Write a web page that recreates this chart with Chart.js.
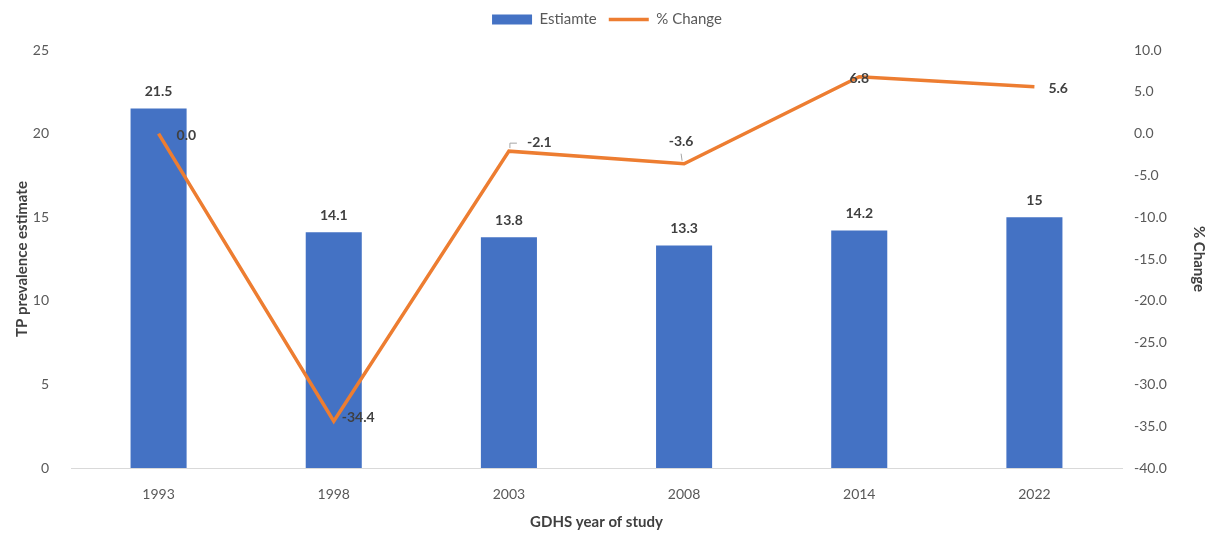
<!DOCTYPE html>
<html>
<head>
<meta charset="utf-8">
<script src="https://cdn.jsdelivr.net/npm/chart.js@4"></script>
<style>
  html, body { margin: 0; padding: 0; background: #fff; }
  #wrap { width: 1214px; height: 535px; }
</style>
</head>
<body>
<div id="wrap"><canvas id="chart" width="1214" height="535"></canvas></div>
<script>
// Values
const years = ["1993", "1998", "2003", "2008", "2014", "2022"];
const estimate = [21.5, 14.1, 13.8, 13.3, 14.2, 15];
const pctChange = [0.0, -34.4, -2.1, -3.6, 6.8, 5.6];
const estimateLabels = ["21.5", "14.1", "13.8", "13.3", "14.2", "15"];

const FONT = 'Lato, "Open Sans", "Liberation Sans", sans-serif';
const BLUE = "#4472C4";
const ORANGE = "#ED7D31";
const GREY = "#595959";

Chart.defaults.font.family = FONT;
Chart.defaults.color = GREY;

// where each % change label sits relative to its point (Excel-style placement)
const lineLabelPos = [
  { dx: 18, dy: 2, align: "left" },
  { dx: 8, dy: -4, align: "left" },
  { dx: 18, dy: -9, align: "left", leader: "elbow" },
  { dx: -3, dy: -22, align: "center", leader: "tick" },
  { dx: 0, dy: 2, align: "center" },
  { dx: 14, dy: 2, align: "left" }
];

const valueLabels = {
  id: "valueLabels",
  afterDatasetsDraw(chart) {
    const ctx = chart.ctx;
    ctx.save();
    ctx.font = "bold 14px " + FONT;
    ctx.fillStyle = "#404040";
    ctx.textBaseline = "middle";

    // bars
    chart.getDatasetMeta(0).data.forEach((bar, i) => {
      ctx.textAlign = "center";
      ctx.fillText(estimateLabels[i], bar.x, bar.y - 17);
    });

    // line
    chart.getDatasetMeta(1).data.forEach((pt, i) => {
      const p = lineLabelPos[i];
      const txt = pctChange[i].toFixed(1);
      ctx.textAlign = p.align;
      if (p.leader === "elbow") {
        ctx.strokeStyle = "#a6a6a6";
        ctx.lineWidth = 1;
        ctx.beginPath();
        ctx.moveTo(pt.x + 1, pt.y - 3);
        ctx.lineTo(pt.x + 1, pt.y - 8);
        ctx.lineTo(pt.x + 8, pt.y - 8);
        ctx.stroke();
      } else if (p.leader === "tick") {
        ctx.strokeStyle = "#a6a6a6";
        ctx.lineWidth = 1;
        ctx.beginPath();
        ctx.moveTo(pt.x - 2, pt.y - 3);
        ctx.lineTo(pt.x - 3, pt.y - 10);
        ctx.stroke();
      }
      ctx.fillText(txt, pt.x + p.dx, pt.y + p.dy);
    });
    ctx.restore();
  }
};

// extra room between the legend and the plot, legend itself stays near the top
const legendGap = {
  id: "legendGap",
  beforeLayout(chart) {
    const lg = chart.legend;
    if (lg && !lg._gapped) {
      const fit = lg.fit;
      lg.fit = function () {
        fit.call(this);
        this.height += 13;
      };
      lg._gapped = true;
    }
  }
};

new Chart(document.getElementById("chart"), {
  data: {
    labels: years,
    datasets: [
      {
        type: "bar",
        label: "Estiamte",
        data: estimate,
        backgroundColor: BLUE,
        barPercentage: 0.64,
        categoryPercentage: 0.5,
        yAxisID: "y",
        order: 2
      },
      {
        type: "line",
        label: "% Change",
        data: pctChange,
        borderColor: ORANGE,
        backgroundColor: ORANGE,
        borderWidth: 3.5,
        pointRadius: 0,
        tension: 0,
        yAxisID: "y1",
        order: 1
      }
    ]
  },
  options: {
    responsive: false,
    animation: false,
    layout: { padding: { top: 0, right: 0, left: 0, bottom: 0 } },
    plugins: {
      legend: {
        position: "top",
        labels: {
          usePointStyle: true,
          pointStyleWidth: 40,
          boxHeight: 10,
          padding: 12,
          color: GREY,
          font: { size: 15 },
          generateLabels(chart) {
            return chart.data.datasets.map((ds, i) => ({
              text: ds.label,
              fillStyle: ds.backgroundColor,
              strokeStyle: i === 0 ? ds.backgroundColor : ds.borderColor,
              lineWidth: i === 0 ? 0 : 3.5,
              pointStyle: i === 0 ? "rect" : "line",
              datasetIndex: i,
              hidden: false,
              fontColor: GREY
            }));
          }
        }
      },
      tooltip: { enabled: false }
    },
    scales: {
      x: {
        grid: { display: false },
        border: { display: true, color: "#d9d9d9", width: 1 },
        ticks: { color: GREY, font: { size: 14 }, padding: 10 },
        title: { display: true, text: "GDHS year of study", color: "#404040", font: { size: 15, weight: "bold" }, padding: { top: 9 } },
        afterFit(s) { s.height = 67; }
      },
      y: {
        position: "left",
        min: 0,
        max: 25,
        ticks: { stepSize: 5, color: GREY, font: { size: 14 }, padding: 14 },
        grid: { display: false },
        border: { display: false },
        title: { display: true, text: "TP prevalence estimate", color: "#404040", font: { size: 15, weight: "bold" }, padding: { top: 13, bottom: 0 } },
        afterFit(s) { s.width = 71; }
      },
      y1: {
        position: "right",
        min: -40,
        max: 10,
        ticks: { stepSize: 5, color: GREY, font: { size: 14 }, padding: 4, callback: (v) => Number(v).toFixed(1) },
        grid: { display: false },
        border: { display: false },
        title: { display: true, text: "% Change", color: "#404040", font: { size: 15, weight: "bold" }, padding: { top: 6, bottom: 0 } },
        afterFit(s) { s.width = 92; }
      }
    }
  },
  plugins: [valueLabels, legendGap]
});
</script>
</body>
</html>
